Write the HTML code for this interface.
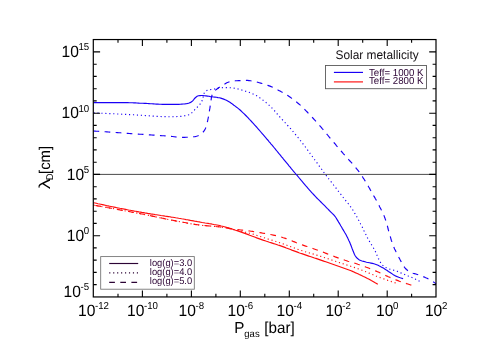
<!DOCTYPE html>
<html><head><meta charset="utf-8"><title>plot</title>
<style>html,body{margin:0;padding:0;background:#fff;overflow:hidden;}svg{display:block;will-change:transform;}text{font-family:"Liberation Sans",sans-serif;text-rendering:geometricPrecision;}</style></head><body>
<svg width="498" height="356" viewBox="0 0 498 356">
<rect width="498" height="356" fill="#fff"/>
<line x1="93.3" x2="436.0" y1="174.4" y2="174.4" stroke="#2a2a2a" stroke-width="0.85"/>
<path d="M93.5,102.6 L95.0,102.6 L96.5,102.6 L98.0,102.6 L99.5,102.6 L101.0,102.6 L102.5,102.6 L104.0,102.6 L105.5,102.6 L107.0,102.6 L108.5,102.6 L110.0,102.6 L111.5,102.6 L113.0,102.6 L114.5,102.6 L116.0,102.6 L117.5,102.6 L119.0,102.6 L120.5,102.6 L122.0,102.6 L123.5,102.6 L125.0,102.6 L126.5,102.6 L127.9,102.6 L129.4,102.7 L130.9,102.7 L132.4,102.8 L133.9,102.9 L135.4,102.9 L136.9,103.0 L138.4,103.1 L139.9,103.2 L141.4,103.2 L142.9,103.3 L144.4,103.4 L145.9,103.4 L147.4,103.5 L148.9,103.6 L150.4,103.7 L151.9,103.8 L153.4,103.9 L154.9,104.0 L156.4,104.1 L157.9,104.1 L159.4,104.2 L160.9,104.2 L162.4,104.3 L163.9,104.3 L165.4,104.3 L166.9,104.3 L168.4,104.3 L169.9,104.3 L171.4,104.3 L172.9,104.3 L174.3,104.3 L175.8,104.3 L177.3,104.3 L178.8,104.3 L180.3,104.2 L181.8,104.1 L183.3,104.0 L184.8,103.9 L186.3,103.7 L187.8,103.4 L189.2,103.0 L190.6,102.4 L191.9,101.6 L192.9,100.6 L193.9,99.4 L194.8,98.2 L195.9,97.2 L197.1,96.3 L198.5,95.8 L200.0,95.6 L201.5,95.5 L203.0,95.5 L204.5,95.7 L206.0,95.9 L207.5,96.1 L209.0,96.3 L210.4,96.6 L211.9,96.8 L213.4,97.0 L214.9,97.1 L216.4,97.3 L217.9,97.6 L219.4,97.8 L220.8,98.1 L222.2,98.6 L223.7,99.1 L225.1,99.7 L226.4,100.3 L227.7,101.0 L229.0,101.8 L230.3,102.6 L231.5,103.4 L232.7,104.3 L233.9,105.2 L235.2,106.1 L236.3,107.0 L237.5,107.9 L238.7,108.9 L239.8,109.8 L240.9,110.8 L242.0,111.8 L243.1,112.9 L244.2,113.9 L245.3,115.0 L246.3,116.0 L247.4,117.1 L248.4,118.2 L249.4,119.3 L250.5,120.4 L251.5,121.5 L252.5,122.6 L253.5,123.7 L254.5,124.8 L255.5,125.9 L256.5,127.0 L257.5,128.2 L258.5,129.3 L259.5,130.4 L260.4,131.5 L261.4,132.7 L262.4,133.8 L263.4,134.9 L264.4,136.1 L265.3,137.2 L266.3,138.3 L267.3,139.5 L268.3,140.6 L269.2,141.8 L270.2,142.9 L271.1,144.1 L272.1,145.2 L273.1,146.4 L274.0,147.5 L275.0,148.7 L275.9,149.8 L276.9,151.0 L277.8,152.1 L278.8,153.3 L279.7,154.5 L280.7,155.6 L281.6,156.8 L282.6,157.9 L283.5,159.1 L284.5,160.3 L285.4,161.4 L286.4,162.6 L287.3,163.7 L288.3,164.9 L289.2,166.1 L290.2,167.2 L291.1,168.4 L292.1,169.5 L293.0,170.7 L294.0,171.8 L295.0,173.0 L295.9,174.1 L296.9,175.2 L297.9,176.4 L298.8,177.5 L299.8,178.7 L300.8,179.8 L301.7,181.0 L302.7,182.1 L303.7,183.3 L304.6,184.4 L305.6,185.6 L306.6,186.7 L307.6,187.8 L308.5,189.0 L309.5,190.1 L310.5,191.2 L311.5,192.3 L312.5,193.4 L313.6,194.5 L314.6,195.6 L315.6,196.7 L316.6,197.8 L317.7,198.8 L318.8,199.9 L319.8,200.9 L320.9,202.0 L322.0,203.1 L323.0,204.1 L324.1,205.2 L325.1,206.2 L326.2,207.3 L327.2,208.4 L328.3,209.4 L329.3,210.5 L330.4,211.6 L331.4,212.6 L332.5,213.7 L333.6,214.7 L334.6,215.8 L335.5,217.0 L336.3,218.3 L337.1,219.6 L337.9,220.9 L338.6,222.1 L339.4,223.4 L340.2,224.7 L340.9,226.0 L341.7,227.3 L342.4,228.6 L343.2,229.9 L344.0,231.2 L344.7,232.5 L345.5,233.8 L346.2,235.1 L346.9,236.4 L347.6,237.7 L348.2,239.1 L348.8,240.4 L349.5,241.8 L350.1,243.2 L350.6,244.6 L351.2,246.0 L351.7,247.4 L352.2,248.8 L352.8,250.2 L353.3,251.6 L353.9,253.0 L354.5,254.4 L355.2,255.7 L356.0,256.9 L357.0,258.0 L358.2,259.1 L359.4,259.9 L360.7,260.5 L362.1,261.0 L363.6,261.4 L365.1,261.8 L366.5,262.2 L368.0,262.5 L369.5,262.8 L370.9,263.1 L372.4,263.4 L373.9,263.8 L375.3,264.2 L376.7,264.7 L378.1,265.3 L379.4,266.0 L380.8,266.7 L382.1,267.4 L383.4,268.1 L384.7,268.9 L385.9,269.7 L387.2,270.5 L388.4,271.4 L389.7,272.2 L390.9,273.0 L392.2,273.9 L393.4,274.7 L394.7,275.5 L396.0,276.1 L397.4,276.7 L398.8,277.3 L400.2,277.8 L401.6,278.2 L403.1,278.6" fill="none" stroke="#1a00f5" stroke-width="1.15"/>
<path d="M93.5,112.8 L95.0,112.9 L96.5,112.9 L98.0,113.0 L99.5,113.1 L101.0,113.2 L102.5,113.2 L104.0,113.3 L105.5,113.4 L106.9,113.5 L108.4,113.5 L109.9,113.6 L111.4,113.7 L112.9,113.7 L114.4,113.8 L115.9,113.9 L117.4,114.0 L118.9,114.0 L120.4,114.1 L121.9,114.2 L123.4,114.3 L124.9,114.3 L126.4,114.4 L127.9,114.5 L129.4,114.6 L130.8,114.6 L132.3,114.7 L133.8,114.8 L135.3,114.9 L136.8,115.0 L138.3,115.1 L139.8,115.2 L141.3,115.3 L142.8,115.4 L144.3,115.5 L145.8,115.6 L147.3,115.7 L148.8,115.8 L150.3,115.9 L151.8,116.0 L153.2,116.1 L154.7,116.2 L156.2,116.3 L157.7,116.4 L159.2,116.4 L160.7,116.5 L162.2,116.6 L163.7,116.6 L165.2,116.6 L166.7,116.7 L168.2,116.7 L169.7,116.7 L171.2,116.7 L172.7,116.7 L174.2,116.6 L175.7,116.6 L177.2,116.5 L178.7,116.5 L180.1,116.4 L181.6,116.3 L183.1,116.1 L184.6,115.8 L186.1,115.5 L187.5,115.2 L188.9,114.7 L190.3,114.0 L191.5,113.1 L192.5,112.1 L193.6,111.0 L194.6,109.9 L195.6,108.8 L196.7,107.7 L197.8,106.7 L198.9,105.6 L199.8,104.5 L200.7,103.3 L201.5,102.0 L202.2,100.6 L202.6,99.3 L203.0,97.8 L203.3,96.3 L203.6,94.8 L204.0,93.4 L204.8,92.1 L205.8,91.1 L207.2,90.4 L208.6,90.0 L210.0,89.7 L211.5,89.4 L213.0,89.2 L214.5,89.0 L216.0,88.6 L217.4,88.2 L218.9,87.9 L220.4,87.8 L221.9,87.7 L223.4,87.6 L224.9,87.6 L226.3,87.6 L227.8,87.6 L229.3,87.7 L230.8,87.8 L232.3,87.9 L233.8,88.1 L235.3,88.3 L236.7,88.7 L238.2,89.0 L239.7,89.4 L241.1,89.8 L242.5,90.2 L244.0,90.6 L245.4,91.1 L246.8,91.5 L248.3,92.0 L249.7,92.5 L251.1,93.1 L252.4,93.6 L253.8,94.3 L255.1,94.9 L256.4,95.6 L257.7,96.4 L259.0,97.2 L260.2,98.1 L261.4,99.0 L262.6,99.9 L263.8,100.8 L265.0,101.7 L266.1,102.6 L267.3,103.6 L268.4,104.6 L269.5,105.6 L270.6,106.7 L271.6,107.7 L272.7,108.8 L273.7,109.9 L274.7,111.0 L275.7,112.1 L276.6,113.3 L277.6,114.4 L278.6,115.5 L279.6,116.7 L280.6,117.8 L281.6,118.9 L282.6,120.0 L283.6,121.1 L284.7,122.2 L285.7,123.3 L286.7,124.4 L287.7,125.5 L288.7,126.6 L289.7,127.7 L290.7,128.8 L291.6,130.0 L292.6,131.1 L293.6,132.2 L294.5,133.4 L295.5,134.5 L296.5,135.7 L297.4,136.8 L298.4,138.0 L299.3,139.2 L300.2,140.3 L301.2,141.5 L302.1,142.7 L303.0,143.9 L303.9,145.1 L304.8,146.2 L305.7,147.4 L306.6,148.6 L307.5,149.8 L308.4,151.0 L309.3,152.2 L310.1,153.5 L311.0,154.7 L311.9,155.9 L312.8,157.1 L313.7,158.3 L314.5,159.5 L315.4,160.7 L316.3,161.9 L317.2,163.1 L318.0,164.4 L318.9,165.6 L319.8,166.8 L320.7,168.0 L321.6,169.2 L322.5,170.4 L323.3,171.6 L324.2,172.8 L325.1,174.0 L326.0,175.2 L326.9,176.4 L327.9,177.6 L328.8,178.8 L329.7,179.9 L330.6,181.1 L331.5,182.3 L332.4,183.5 L333.3,184.7 L334.2,185.9 L335.2,187.0 L336.1,188.2 L337.0,189.4 L337.9,190.6 L338.8,191.8 L339.7,192.9 L340.7,194.1 L341.6,195.3 L342.5,196.5 L343.4,197.7 L344.4,198.8 L345.3,200.0 L346.2,201.2 L347.2,202.3 L348.1,203.5 L349.0,204.7 L349.9,205.9 L350.8,207.1 L351.7,208.3 L352.5,209.5 L353.3,210.8 L354.1,212.1 L354.8,213.4 L355.6,214.7 L356.3,216.0 L357.1,217.3 L357.8,218.6 L358.5,219.9 L359.2,221.2 L359.9,222.5 L360.6,223.9 L361.3,225.2 L362.0,226.5 L362.6,227.9 L363.3,229.2 L363.9,230.6 L364.6,231.9 L365.2,233.3 L365.9,234.6 L366.5,236.0 L367.2,237.3 L367.9,238.6 L368.6,239.9 L369.4,241.2 L370.1,242.5 L370.9,243.8 L371.7,245.0 L372.5,246.3 L373.3,247.6 L374.0,248.9 L374.7,250.2 L375.4,251.5 L376.0,252.9 L376.6,254.3 L377.2,255.7 L377.8,257.0 L378.4,258.4 L379.1,259.7 L379.8,261.1 L380.5,262.4 L381.3,263.7 L382.2,264.8 L383.3,265.8 L384.5,266.6 L385.8,267.4 L387.2,268.1 L388.6,268.7 L390.0,269.2 L391.4,269.6 L392.9,270.0 L394.3,270.4 L395.8,270.8 L397.2,271.3 L398.6,271.9 L399.9,272.5 L401.3,273.1 L402.7,273.7 L404.1,274.3 L405.4,274.8 L406.8,275.4 L408.2,276.0 L409.6,276.5 L411.0,277.1 L412.4,277.7 L413.7,278.3 L415.1,278.9 L416.4,279.6 L417.7,280.3 L419.1,281.0 L420.4,281.7 L421.7,282.4" fill="none" stroke="#1a00f5" stroke-width="1.15" stroke-dasharray="1.15 2.8"/>
<path d="M93.5,131.0 L95.0,131.1 L96.5,131.2 L98.0,131.3 L99.5,131.4 L101.0,131.5 L102.5,131.6 L103.9,131.7 L105.4,131.8 L106.9,131.9 L108.4,132.0 L109.9,132.1 L111.4,132.2 L112.9,132.3 L114.4,132.4 L115.9,132.5 L117.4,132.6 L118.9,132.7 L120.4,132.8 L121.9,132.9 L123.4,133.0 L124.8,133.2 L126.3,133.3 L127.8,133.4 L129.3,133.5 L130.8,133.6 L132.3,133.7 L133.8,133.8 L135.3,133.9 L136.8,134.0 L138.3,134.1 L139.8,134.2 L141.3,134.3 L142.8,134.4 L144.2,134.5 L145.7,134.6 L147.2,134.7 L148.7,134.8 L150.2,134.9 L151.7,135.0 L153.2,135.1 L154.7,135.2 L156.2,135.3 L157.7,135.4 L159.2,135.5 L160.7,135.6 L162.2,135.7 L163.7,135.8 L165.1,135.9 L166.6,136.0 L168.1,136.2 L169.6,136.3 L171.1,136.4 L172.6,136.5 L174.1,136.7 L175.6,136.9 L177.1,137.0 L178.6,137.2 L180.1,137.3 L181.6,137.3 L183.0,137.3 L184.5,137.3 L186.1,137.2 L187.6,137.2 L189.1,137.1 L190.6,137.0 L192.1,136.9 L193.5,136.8 L195.0,136.6 L196.5,136.2 L198.0,135.7 L199.3,135.1 L200.5,134.4 L201.7,133.5 L202.8,132.4 L203.9,131.2 L204.7,129.9 L205.3,128.7 L205.9,127.4 L206.3,126.0 L206.8,124.5 L207.1,123.0 L207.5,121.5 L207.8,120.0 L208.1,118.5 L208.4,117.1 L208.7,115.6 L209.0,114.1 L209.2,112.7 L209.4,111.2 L209.6,109.7 L209.9,108.2 L210.1,106.7 L210.3,105.3 L210.5,103.8 L210.7,102.3 L210.9,100.8 L211.2,99.3 L211.4,97.8 L211.7,96.4 L212.1,94.9 L212.7,93.5 L213.4,92.3 L214.5,91.1 L215.5,90.1 L216.7,89.2 L217.9,88.3 L219.1,87.4 L220.4,86.7 L221.7,85.9 L223.0,85.2 L224.3,84.4 L225.6,83.5 L226.8,82.7 L228.2,82.2 L229.6,81.7 L231.1,81.3 L232.6,81.1 L234.0,80.9 L235.5,80.8 L237.0,80.7 L238.5,80.6 L240.0,80.6 L241.5,80.5 L243.0,80.5 L244.5,80.4 L246.0,80.4 L247.5,80.4 L249.0,80.6 L250.5,80.8 L251.9,81.1 L253.4,81.4 L254.9,81.7 L256.3,82.0 L257.8,82.3 L259.2,82.7 L260.7,83.1 L262.1,83.5 L263.6,83.9 L265.0,84.4 L266.4,84.9 L267.8,85.4 L269.2,85.9 L270.6,86.4 L272.0,87.0 L273.4,87.6 L274.7,88.3 L276.1,89.0 L277.4,89.7 L278.7,90.4 L280.0,91.1 L281.3,91.8 L282.7,92.5 L284.0,93.2 L285.2,94.0 L286.5,94.8 L287.8,95.6 L289.1,96.4 L290.3,97.2 L291.5,98.1 L292.7,99.0 L293.9,99.9 L295.1,100.8 L296.3,101.7 L297.4,102.7 L298.6,103.7 L299.7,104.6 L300.8,105.6 L301.9,106.7 L303.0,107.7 L304.0,108.7 L305.1,109.8 L306.1,110.9 L307.2,112.0 L308.2,113.1 L309.2,114.2 L310.2,115.2 L311.3,116.3 L312.3,117.4 L313.3,118.5 L314.3,119.6 L315.3,120.7 L316.3,121.8 L317.3,123.0 L318.3,124.1 L319.3,125.2 L320.3,126.3 L321.3,127.4 L322.2,128.6 L323.2,129.7 L324.2,130.9 L325.1,132.0 L326.1,133.2 L327.0,134.3 L328.0,135.5 L328.9,136.7 L329.9,137.8 L330.8,139.0 L331.8,140.1 L332.8,141.2 L333.7,142.4 L334.7,143.5 L335.7,144.7 L336.6,145.8 L337.6,146.9 L338.6,148.1 L339.6,149.2 L340.5,150.4 L341.5,151.5 L342.5,152.6 L343.5,153.8 L344.5,154.9 L345.5,156.0 L346.5,157.1 L347.5,158.2 L348.5,159.3 L349.5,160.5 L350.5,161.6 L351.5,162.7 L352.5,163.8 L353.5,165.0 L354.4,166.1 L355.4,167.2 L356.3,168.4 L357.3,169.6 L358.2,170.7 L359.1,171.9 L359.9,173.1 L360.8,174.3 L361.6,175.6 L362.5,176.8 L363.3,178.1 L364.1,179.3 L364.9,180.6 L365.7,181.9 L366.4,183.1 L367.2,184.4 L368.0,185.7 L368.7,187.0 L369.5,188.3 L370.2,189.6 L371.0,190.9 L371.7,192.2 L372.5,193.5 L373.2,194.8 L373.9,196.1 L374.7,197.4 L375.4,198.7 L376.2,200.0 L376.9,201.4 L377.6,202.7 L378.3,204.0 L379.0,205.3 L379.6,206.7 L380.3,208.0 L381.0,209.3 L381.6,210.7 L382.3,212.0 L382.9,213.4 L383.6,214.8 L384.2,216.1 L384.7,217.5 L385.2,218.9 L385.7,220.3 L386.2,221.7 L386.6,223.2 L387.0,224.6 L387.4,226.1 L387.8,227.5 L388.1,229.0 L388.5,230.4 L388.9,231.9 L389.3,233.3 L389.7,234.7 L390.2,236.2 L390.6,237.6 L391.0,239.1 L391.4,240.5 L391.9,241.9 L392.3,243.3 L392.9,244.7 L393.4,246.1 L394.0,247.5 L394.6,248.9 L395.3,250.2 L395.9,251.6 L396.5,252.9 L397.2,254.3 L397.9,255.6 L398.6,256.9 L399.3,258.2 L400.0,259.6 L400.7,260.9 L401.5,262.2 L402.2,263.5 L402.9,264.9 L403.7,266.2 L404.6,267.4 L405.5,268.5 L406.5,269.5 L407.7,270.5 L409.0,271.4 L410.3,272.1 L411.6,272.7 L413.0,273.2 L414.4,273.6 L415.9,274.0 L417.3,274.5 L418.8,275.0 L420.2,275.5 L421.6,276.0 L423.0,276.5 L424.4,277.1 L425.7,277.7 L427.1,278.3 L428.4,279.0 L429.7,279.7 L431.0,280.4 L432.3,281.2 L433.5,282.0 L434.8,282.9 L436.0,283.8" fill="none" stroke="#1a00f5" stroke-width="1.15" stroke-dasharray="5.7 5.4"/>
<path d="M93.5,202.7 L95.0,203.0 L96.4,203.3 L97.9,203.7 L99.3,204.0 L100.8,204.3 L102.3,204.6 L103.7,204.9 L105.2,205.2 L106.6,205.6 L108.1,205.9 L109.6,206.2 L111.0,206.5 L112.5,206.8 L114.0,207.1 L115.4,207.4 L116.9,207.7 L118.3,208.0 L119.8,208.3 L121.3,208.5 L122.7,208.8 L124.2,209.1 L125.7,209.4 L127.1,209.7 L128.6,210.0 L130.1,210.2 L131.5,210.5 L133.0,210.8 L134.5,211.1 L135.9,211.3 L137.4,211.6 L138.9,211.9 L140.3,212.1 L141.8,212.4 L143.3,212.6 L144.8,212.9 L146.2,213.1 L147.7,213.4 L149.2,213.6 L150.7,213.9 L152.1,214.1 L153.6,214.3 L155.1,214.6 L156.6,214.8 L158.0,215.0 L159.5,215.2 L161.0,215.5 L162.5,215.7 L163.9,215.9 L165.4,216.2 L166.9,216.4 L168.4,216.6 L169.8,216.8 L171.3,217.1 L172.8,217.3 L174.3,217.5 L175.7,217.8 L177.2,218.0 L178.7,218.3 L180.2,218.5 L181.6,218.8 L183.1,219.0 L184.6,219.3 L186.0,219.6 L187.5,219.8 L189.0,220.1 L190.4,220.4 L191.9,220.6 L193.4,220.9 L194.9,221.2 L196.3,221.4 L197.8,221.7 L199.3,221.9 L200.7,222.2 L202.2,222.5 L203.7,222.7 L205.2,223.0 L206.6,223.2 L208.1,223.4 L209.6,223.7 L211.1,223.9 L212.5,224.2 L214.0,224.5 L215.5,224.7 L216.9,225.0 L218.4,225.3 L219.8,225.6 L221.3,226.0 L222.7,226.3 L224.2,226.7 L225.6,227.1 L227.1,227.5 L228.5,227.9 L229.9,228.3 L231.4,228.8 L232.8,229.2 L234.2,229.7 L235.6,230.2 L237.0,230.6 L238.5,231.1 L239.9,231.6 L241.3,232.1 L242.7,232.6 L244.1,233.1 L245.5,233.6 L246.9,234.1 L248.3,234.6 L249.7,235.2 L251.1,235.7 L252.5,236.3 L253.9,236.8 L255.3,237.3 L256.7,237.9 L258.1,238.4 L259.5,238.9 L260.9,239.4 L262.3,239.9 L263.7,240.4 L265.1,240.8 L266.5,241.3 L268.0,241.7 L269.4,242.2 L270.8,242.6 L272.2,243.1 L273.7,243.6 L275.1,244.0 L276.5,244.5 L277.9,245.0 L279.3,245.4 L280.7,245.9 L282.1,246.4 L283.5,246.9 L284.9,247.4 L286.3,248.0 L287.7,248.5 L289.1,249.0 L290.5,249.5 L291.9,250.1 L293.3,250.6 L294.7,251.1 L296.1,251.6 L297.5,252.1 L298.9,252.7 L300.4,253.2 L301.8,253.6 L303.2,254.1 L304.6,254.6 L306.0,255.1 L307.4,255.6 L308.8,256.1 L310.2,256.5 L311.7,257.0 L313.1,257.5 L314.5,258.0 L315.9,258.4 L317.3,258.9 L318.7,259.4 L320.1,259.9 L321.6,260.4 L323.0,260.9 L324.4,261.4 L325.8,261.8 L327.2,262.3 L328.6,262.8 L330.0,263.3 L331.4,263.8 L332.8,264.3 L334.2,264.8 L335.6,265.3 L337.0,265.8 L338.5,266.3 L339.9,266.8 L341.3,267.3 L342.7,267.8 L344.1,268.3 L345.5,268.8 L346.9,269.3 L348.3,269.8 L349.7,270.3 L351.1,270.8 L352.5,271.4 L353.9,272.0 L355.2,272.6 L356.6,273.2 L357.9,273.8 L359.3,274.5 L360.7,275.1 L362.0,275.7 L363.4,276.4 L364.7,277.0 L366.1,277.7 L367.4,278.4 L368.7,279.0 L370.0,279.7 L371.3,280.5 L372.6,281.2 L373.9,281.9 L375.2,282.7 L376.5,283.4 L377.8,284.2" fill="none" stroke="#ff0c0c" stroke-width="1.15"/>
<path d="M93.5,205.1 L95.0,205.4 L96.5,205.6 L97.9,205.9 L99.4,206.1 L100.9,206.4 L102.4,206.7 L103.8,206.9 L105.3,207.2 L106.8,207.5 L108.3,207.7 L109.7,208.0 L111.2,208.3 L112.7,208.5 L114.1,208.8 L115.6,209.1 L117.1,209.3 L118.6,209.6 L120.0,209.9 L121.5,210.2 L123.0,210.4 L124.5,210.7 L125.9,211.0 L127.4,211.3 L128.9,211.5 L130.4,211.8 L131.8,212.1 L133.3,212.4 L134.8,212.7 L136.2,212.9 L137.7,213.2 L139.2,213.5 L140.7,213.8 L142.1,214.1 L143.6,214.4 L145.1,214.7 L146.5,215.0 L148.0,215.2 L149.5,215.5 L150.9,215.9 L152.4,216.2 L153.9,216.5 L155.3,216.8 L156.8,217.1 L158.3,217.4 L159.7,217.7 L161.2,218.0 L162.7,218.3 L164.1,218.6 L165.6,218.9 L167.1,219.2 L168.6,219.5 L170.0,219.8 L171.5,220.1 L173.0,220.4 L174.4,220.7 L175.9,220.9 L177.4,221.2 L178.8,221.5 L180.3,221.8 L181.8,222.0 L183.3,222.3 L184.7,222.6 L186.2,222.9 L187.7,223.1 L189.2,223.4 L190.6,223.7 L192.1,223.9 L193.6,224.2 L195.1,224.4 L196.6,224.6 L198.0,224.8 L199.5,225.0 L201.0,225.2 L202.5,225.4 L204.0,225.5 L205.5,225.6 L207.0,225.8 L208.5,225.9 L210.0,226.0 L211.5,226.1 L213.0,226.3 L214.5,226.4 L215.9,226.5 L217.4,226.7 L218.9,226.8 L220.4,227.0 L221.9,227.2 L223.4,227.5 L224.8,227.7 L226.3,228.0 L227.8,228.3 L229.2,228.6 L230.7,229.0 L232.2,229.3 L233.6,229.6 L235.1,229.9 L236.6,230.2 L238.0,230.5 L239.5,230.8 L241.0,231.2 L242.4,231.5 L243.9,231.8 L245.4,232.2 L246.8,232.5 L248.3,232.9 L249.7,233.2 L251.2,233.6 L252.6,234.0 L254.0,234.5 L255.5,234.9 L256.9,235.4 L258.3,235.8 L259.7,236.3 L261.2,236.8 L262.6,237.3 L264.0,237.7 L265.5,238.2 L266.9,238.6 L268.3,239.1 L269.7,239.5 L271.2,239.9 L272.6,240.4 L274.0,240.8 L275.5,241.3 L276.9,241.7 L278.3,242.2 L279.7,242.7 L281.2,243.2 L282.6,243.7 L284.0,244.2 L285.4,244.7 L286.8,245.2 L288.2,245.7 L289.6,246.3 L291.0,246.8 L292.4,247.3 L293.8,247.8 L295.2,248.4 L296.6,248.9 L298.0,249.4 L299.5,249.8 L300.9,250.3 L302.3,250.8 L303.7,251.2 L305.2,251.7 L306.6,252.1 L308.0,252.5 L309.5,253.0 L310.9,253.4 L312.3,253.8 L313.8,254.2 L315.2,254.7 L316.6,255.1 L318.1,255.5 L319.5,256.0 L320.9,256.4 L322.4,256.9 L323.8,257.4 L325.2,257.8 L326.6,258.3 L328.1,258.8 L329.5,259.3 L330.9,259.7 L332.3,260.2 L333.7,260.7 L335.2,261.2 L336.6,261.7 L338.0,262.1 L339.4,262.6 L340.8,263.1 L342.3,263.5 L343.7,264.0 L345.1,264.5 L346.5,264.9 L348.0,265.4 L349.4,265.9 L350.8,266.3 L352.2,266.8 L353.7,267.3 L355.1,267.7 L356.5,268.2 L357.9,268.7 L359.3,269.2 L360.7,269.7 L362.1,270.3 L363.5,270.8 L364.9,271.4 L366.3,271.9 L367.7,272.5 L369.1,273.1 L370.5,273.7 L371.8,274.3 L373.2,274.8 L374.6,275.4 L376.0,276.0 L377.4,276.5 L378.8,277.0 L380.2,277.6 L381.6,278.1 L383.0,278.6 L384.4,279.1 L385.8,279.6 L387.2,280.1 L388.6,280.6 L390.1,281.1 L391.5,281.6 L392.9,282.0 L394.3,282.5 L395.8,283.0 L397.2,283.4" fill="none" stroke="#ff0c0c" stroke-width="1.15" stroke-dasharray="1.15 2.8"/>
<path d="M93.5,205.1 L95.0,205.4 L96.4,205.6 L97.9,205.9 L99.4,206.1 L100.9,206.4 L102.3,206.7 L103.8,206.9 L105.3,207.2 L106.7,207.5 L108.2,207.7 L109.7,208.0 L111.2,208.3 L112.6,208.5 L114.1,208.8 L115.6,209.1 L117.0,209.3 L118.5,209.6 L120.0,209.9 L121.4,210.1 L122.9,210.4 L124.4,210.7 L125.8,211.0 L127.3,211.2 L128.8,211.5 L130.3,211.8 L131.7,212.1 L133.2,212.4 L134.7,212.6 L136.1,212.9 L137.6,213.2 L139.1,213.5 L140.5,213.8 L142.0,214.0 L143.5,214.3 L144.9,214.6 L146.4,214.9 L147.9,215.2 L149.3,215.5 L150.8,215.8 L152.2,216.1 L153.7,216.4 L155.2,216.7 L156.6,217.0 L158.1,217.3 L159.6,217.6 L161.0,217.9 L162.5,218.2 L164.0,218.5 L165.4,218.9 L166.9,219.2 L168.3,219.4 L169.8,219.7 L171.3,220.0 L172.7,220.3 L174.2,220.6 L175.7,220.9 L177.1,221.2 L178.6,221.4 L180.1,221.7 L181.5,222.0 L183.0,222.3 L184.5,222.5 L186.0,222.8 L187.4,223.1 L188.9,223.3 L190.4,223.6 L191.8,223.9 L193.3,224.1 L194.8,224.4 L196.3,224.6 L197.7,224.8 L199.2,225.0 L200.7,225.2 L202.2,225.3 L203.7,225.5 L205.2,225.6 L206.7,225.8 L208.1,225.9 L209.6,226.0 L211.1,226.1 L212.6,226.3 L214.1,226.4 L215.6,226.5 L217.1,226.7 L218.6,226.8 L220.1,227.0 L221.5,227.2 L223.0,227.4 L224.5,227.6 L226.0,227.9 L227.4,228.1 L228.9,228.4 L230.4,228.6 L231.9,228.9 L233.3,229.1 L234.8,229.3 L236.3,229.5 L237.8,229.6 L239.3,229.8 L240.8,230.0 L242.2,230.1 L243.7,230.3 L245.2,230.5 L246.7,230.6 L248.2,230.8 L249.7,231.0 L251.1,231.2 L252.6,231.4 L254.1,231.7 L255.6,231.9 L257.0,232.1 L258.5,232.4 L260.0,232.6 L261.5,232.9 L262.9,233.2 L264.4,233.4 L265.9,233.7 L267.3,234.0 L268.8,234.2 L270.3,234.5 L271.8,234.8 L273.2,235.1 L274.7,235.4 L276.2,235.7 L277.6,236.1 L279.0,236.4 L280.5,236.8 L281.9,237.2 L283.3,237.7 L284.7,238.1 L286.1,238.6 L287.5,239.1 L288.9,239.7 L290.3,240.2 L291.7,240.8 L293.1,241.4 L294.5,241.9 L295.9,242.5 L297.3,243.0 L298.7,243.6 L300.1,244.1 L301.5,244.6 L302.9,245.1 L304.3,245.6 L305.7,246.1 L307.2,246.5 L308.6,247.0 L310.0,247.5 L311.4,248.0 L312.8,248.5 L314.2,249.0 L315.6,249.5 L317.0,250.0 L318.4,250.5 L319.9,251.0 L321.3,251.5 L322.7,252.0 L324.1,252.5 L325.5,253.1 L326.8,253.6 L328.2,254.2 L329.6,254.7 L331.0,255.2 L332.4,255.8 L333.8,256.3 L335.2,256.9 L336.6,257.4 L338.0,257.9 L339.4,258.4 L340.8,258.9 L342.2,259.4 L343.7,259.8 L345.1,260.3 L346.5,260.7 L347.9,261.2 L349.4,261.6 L350.8,262.0 L352.2,262.5 L353.7,262.9 L355.1,263.3 L356.5,263.8 L357.9,264.3 L359.3,264.7 L360.8,265.2 L362.2,265.7 L363.6,266.2 L365.0,266.7 L366.4,267.3 L367.8,267.8 L369.2,268.3 L370.6,268.9 L372.0,269.4 L373.4,270.0 L374.7,270.5 L376.1,271.1 L377.5,271.7 L378.9,272.3 L380.2,272.9 L381.6,273.5 L382.9,274.2 L384.3,274.8 L385.6,275.5 L387.0,276.1 L388.3,276.7 L389.7,277.3 L391.1,277.9 L392.5,278.5 L393.8,279.0 L395.2,279.6 L396.6,280.1 L398.0,280.6 L399.4,281.2 L400.8,281.7 L402.2,282.2 L403.7,282.6 L405.1,283.1 L406.5,283.6 L407.9,284.0 L409.3,284.5 L410.8,285.0 L412.2,285.4 L413.6,285.9" fill="none" stroke="#ff0c0c" stroke-width="1.15" stroke-dasharray="5.7 5.4" stroke-dashoffset="9.2"/>
<rect x="93.3" y="39.55" width="342.7" height="257.4" fill="none" stroke="#000" stroke-width="1.2"/>
<path d="M118.0,297.0 v-3.3 M118.0,39.55 v3.3 M142.4,297.0 v-6.5 M142.4,39.55 v6.5 M166.9,297.0 v-3.3 M166.9,39.55 v3.3 M191.4,297.0 v-6.5 M191.4,39.55 v6.5 M215.9,297.0 v-3.3 M215.9,39.55 v3.3 M240.3,297.0 v-6.5 M240.3,39.55 v6.5 M264.8,297.0 v-3.3 M264.8,39.55 v3.3 M289.3,297.0 v-6.5 M289.3,39.55 v6.5 M313.7,297.0 v-3.3 M313.7,39.55 v3.3 M338.2,297.0 v-6.5 M338.2,39.55 v6.5 M362.7,297.0 v-3.3 M362.7,39.55 v3.3 M387.2,297.0 v-6.5 M387.2,39.55 v6.5 M411.6,297.0 v-3.3 M411.6,39.55 v3.3 M93.3,284.6 h3.4 M436.0,284.6 h-3.4 M93.3,272.4 h3.4 M436.0,272.4 h-3.4 M93.3,260.1 h3.4 M436.0,260.1 h-3.4 M93.3,247.9 h3.4 M436.0,247.9 h-3.4 M93.3,235.7 h6.8 M436.0,235.7 h-6.8 M93.3,223.4 h3.4 M436.0,223.4 h-3.4 M93.3,211.2 h3.4 M436.0,211.2 h-3.4 M93.3,198.9 h3.4 M436.0,198.9 h-3.4 M93.3,186.7 h3.4 M436.0,186.7 h-3.4 M93.3,174.4 h6.8 M436.0,174.4 h-6.8 M93.3,162.2 h3.4 M436.0,162.2 h-3.4 M93.3,149.9 h3.4 M436.0,149.9 h-3.4 M93.3,137.7 h3.4 M436.0,137.7 h-3.4 M93.3,125.4 h3.4 M436.0,125.4 h-3.4 M93.3,113.2 h6.8 M436.0,113.2 h-6.8 M93.3,100.9 h3.4 M436.0,100.9 h-3.4 M93.3,88.7 h3.4 M436.0,88.7 h-3.4 M93.3,76.4 h3.4 M436.0,76.4 h-3.4 M93.3,64.2 h3.4 M436.0,64.2 h-3.4 M93.3,51.9 h6.8 M436.0,51.9 h-6.8" fill="none" stroke="#000" stroke-width="1.1"/>
<text transform="translate(89.20,57.00) scale(1,1.045)" font-size="15.6" text-anchor="end" fill="#000">10<tspan font-size="9.7" dx="-0.4" dy="-6.4">15</tspan></text>
<text transform="translate(89.20,118.25) scale(1,1.045)" font-size="15.6" text-anchor="end" fill="#000">10<tspan font-size="9.7" dx="-0.4" dy="-6.4">10</tspan></text>
<text transform="translate(89.20,179.50) scale(1,1.045)" font-size="15.6" text-anchor="end" fill="#000">10<tspan font-size="9.7" dx="-0.4" dy="-6.4">5</tspan></text>
<text transform="translate(89.20,240.75) scale(1,1.045)" font-size="15.6" text-anchor="end" fill="#000">10<tspan font-size="9.7" dx="-0.4" dy="-6.4">0</tspan></text>
<text transform="translate(89.20,296.60) scale(1,1.045)" font-size="15.6" text-anchor="end" fill="#000">10<tspan font-size="9.7" dx="-0.4" dy="-6.4">-5</tspan></text>
<text transform="translate(93.50,316.00) scale(1,1.045)" font-size="15.6" text-anchor="middle" fill="#000">10<tspan font-size="9.7" dx="-0.4" dy="-6.4">-12</tspan></text>
<text transform="translate(142.44,316.00) scale(1,1.045)" font-size="15.6" text-anchor="middle" fill="#000">10<tspan font-size="9.7" dx="-0.4" dy="-6.4">-10</tspan></text>
<text transform="translate(191.39,316.00) scale(1,1.045)" font-size="15.6" text-anchor="middle" fill="#000">10<tspan font-size="9.7" dx="-0.4" dy="-6.4">-8</tspan></text>
<text transform="translate(240.33,316.00) scale(1,1.045)" font-size="15.6" text-anchor="middle" fill="#000">10<tspan font-size="9.7" dx="-0.4" dy="-6.4">-6</tspan></text>
<text transform="translate(289.27,316.00) scale(1,1.045)" font-size="15.6" text-anchor="middle" fill="#000">10<tspan font-size="9.7" dx="-0.4" dy="-6.4">-4</tspan></text>
<text transform="translate(338.21,316.00) scale(1,1.045)" font-size="15.6" text-anchor="middle" fill="#000">10<tspan font-size="9.7" dx="-0.4" dy="-6.4">-2</tspan></text>
<text transform="translate(387.16,316.00) scale(1,1.045)" font-size="15.6" text-anchor="middle" fill="#000">10<tspan font-size="9.7" dx="-0.4" dy="-6.4">0</tspan></text>
<text transform="translate(436.10,316.00) scale(1,1.045)" font-size="15.6" text-anchor="middle" fill="#000">10<tspan font-size="9.7" dx="-0.4" dy="-6.4">2</tspan></text>
<text transform="translate(234.20,333.20) scale(1,1.045)" font-size="15.2" text-anchor="start" fill="#000">P<tspan font-size="9.5" dy="3.2">gas</tspan><tspan dy="-3.2" dx="0.4" font-size="15.2"> [bar]</tspan></text>
<g transform="translate(49.6,188.3) rotate(-90)" fill="#000"><text transform="translate(-0.9,0) scale(1.42,1.045)" font-size="15.2">λ</text><text transform="translate(8.0,2.9) scale(1,1.045)" font-size="9.4">D</text><text transform="translate(14.3,0) scale(1,1.045)" font-size="14.9">[cm]</text></g>
<text transform="translate(335.50,58.60) scale(1,1.045)" font-size="11.9" text-anchor="start" fill="#141014">Solar metallicity</text>
<rect x="325.5" y="65.5" width="101.0" height="23.2" fill="#fff" stroke="#5a5a5a" stroke-width="0.9"/>
<line x1="333.9" x2="363.0" y1="72.4" y2="72.4" stroke="#1a00f5" stroke-width="1.15"/>
<line x1="333.9" x2="363.0" y1="81.9" y2="81.9" stroke="#ff0c0c" stroke-width="1.15"/>
<text transform="translate(369.00,75.50) scale(1,1.045)" font-size="9.7" text-anchor="start" fill="#2c0435">Teff= 1000 K</text>
<text transform="translate(369.00,84.00) scale(1,1.045)" font-size="9.7" text-anchor="start" fill="#2c0435">Teff= 2800 K</text>
<rect x="100.7" y="256.6" width="93.6" height="32.6" fill="#fff" stroke="#707070" stroke-width="0.85"/>
<line x1="109.2" x2="138.2" y1="263.5" y2="263.5" stroke="#2c0435" stroke-width="1.15"/>
<line x1="109.2" x2="138.2" y1="272.9" y2="272.9" stroke="#2c0435" stroke-width="1.15" stroke-dasharray="1.15 2.8"/>
<line x1="109.2" x2="138.2" y1="282.4" y2="282.4" stroke="#2c0435" stroke-width="1.15" stroke-dasharray="5.7 5.4"/>
<text transform="translate(149.80,265.80) scale(1,1.045)" font-size="9.35" text-anchor="start" fill="#2c0435">log(g)=3.0</text>
<text transform="translate(149.80,275.00) scale(1,1.045)" font-size="9.35" text-anchor="start" fill="#2c0435">log(g)=4.0</text>
<text transform="translate(149.80,284.40) scale(1,1.045)" font-size="9.35" text-anchor="start" fill="#2c0435">log(g)=5.0</text>
</svg></body></html>
